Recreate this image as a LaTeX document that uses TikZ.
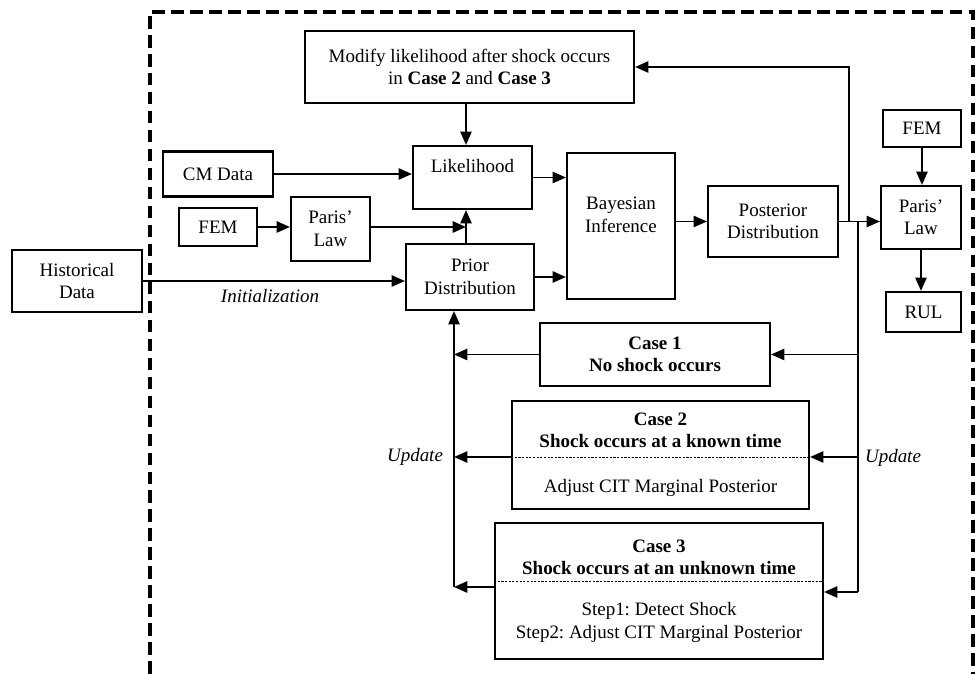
\documentclass[tikz,border=0pt]{standalone}
\usepackage{fontspec}
\setmainfont{Liberation Serif}
\usetikzlibrary{arrows.meta}
\frenchspacing

\tikzset{
  box/.style 2 args={draw, line width=1.5pt, minimum width=#1*0.025cm, minimum height=#2*0.025cm, inner sep=1pt, align=center},
  arr/.style={line width=1.4pt, -{Triangle[length=9.5pt, width=8pt]}},
  link/.style={line width=1.4pt},
  sepline/.style={line width=0.6pt, dash pattern=on 1.6pt off 1pt},
  frame/.style={line width=2.4pt, dash pattern=on 9pt off 4.5pt},
  note/.style={font=\fontsize{13.5pt}{16pt}\selectfont\itshape}
}

\begin{document}
\begin{tikzpicture}[x=0.025cm, y=-0.025cm, font=\fontsize{13.5pt}{16pt}\selectfont]
\useasboundingbox (0,0) rectangle (976,674);

% Dashed frame (open at the bottom)
\draw[frame] (150,674) -- (150,12) -- (973,12) -- (973,674);

% Input side
\node[box={130}{62}] (hist) at (77,281) {Historical\\Data};
\node[box={110}{45}] (cm) at (218,174) {CM Data};
\node[box={78}{38}] (fem1) at (218,227) {FEM};
\node[box={79}{64}] (paris1) at (330.5,229) {Paris'\\Law};

% Bayesian updating core
\node[box={329}{72}] (mod) at (469.5,67) {Modify likelihood after shock occurs\\in \textbf{Case 2} and \textbf{Case 3}};
\node[box={119}{63}] (like) at (472.5,177.5) {Likelihood\\\mbox{}};
\node[box={128}{66}] (prior) at (470,277) {Prior\\Distribution};
\node[box={108}{146}] (bayes) at (621,226) {Bayesian\\Inference\\\mbox{}};
\node[box={130}{71}] (post) at (773,221.5) {Posterior\\Distribution};

% Prognosis
\node[box={78}{37}] (fem2) at (922,128.5) {FEM};
\node[box={80}{63}] (paris2) at (921,217.5) {Paris'\\Law};
\node[box={75}{40}] (rul) at (923.5,312) {RUL};

% Shock cases
\node[box={230}{63}] (case1) at (655,354.5) {\textbf{Case 1}\\\textbf{No shock occurs}};
\node[box={297}{108}] (case2) at (660.5,455) {\textbf{Case 2}\\\textbf{Shock occurs at a known time}\\[16pt]Adjust CIT Marginal Posterior};
\node[box={328}{136}] (case3) at (659,591) {\textbf{Case 3}\\\textbf{Shock occurs at an unknown time}\\[13pt]Step1: Detect Shock\\Step2: Adjust CIT Marginal Posterior};
\draw[sepline] (case2.west |- 0,457) -- (case2.east |- 0,457);
\draw[sepline] (case3.west |- 0,581) -- (case3.east |- 0,581);

% Junction points
\coordinate (vx) at (466,227);
\coordinate (tap1) at (849,221.5);
\coordinate (tap2) at (858,221.5);
\coordinate (rbend) at (858,592);
\coordinate (lbend) at (454,587);

% Arrows into likelihood and prior
\draw[arr] (mod.south -| vx) -- (like.north -| vx);
\draw[arr] (cm.east) -- (cm.east -| like.west);
\draw[arr] (fem1.east) -- (fem1.east -| paris1.west);
\draw[arr] (paris1.east |- vx) -- (vx);
\draw[arr] (prior.north -| vx) -- (like.south -| vx);
\draw[arr] (hist.east) -- (hist.east -| prior.west);
\node[note] (init) at (270,296) {Initialization};

% Inference chain
\draw[arr] (like.east) -- (like.east -| bayes.west);
\draw[arr] (prior.east) -- (prior.east -| bayes.west);
\draw[arr] (bayes.east |- post) -- (post.west);
\draw[arr] (post.east) -- (post.east -| paris2.west);
\draw[arr] (tap1) |- (mod.east);
\draw[arr] (fem2.south) -- (fem2.south |- paris2.north);
\draw[arr] (paris2.south) -- (paris2.south |- rul.north);

% Dispatch to cases
\draw[link] (tap2) -- (rbend);
\draw[arr] (tap2 |- case1.east) -- (case1.east);
\draw[arr] (tap2 |- 0,457) -- (case2.east |- 0,457);
\draw[arr] (rbend) -- (rbend -| case3.east);
\node[note] (upr) at (893,458) {Update};

% Update back to prior
\draw[arr] (case1.west) -- (case1.west -| lbend);
\draw[arr] (case2.west |- 0,457) -- (lbend |- 0,457);
\draw[arr] (case3.west |- lbend) -- (lbend);
\draw[arr] (lbend) -- (lbend |- prior.south);
\node[note] (upl) at (415,457) {Update};
\end{tikzpicture}
\end{document}
